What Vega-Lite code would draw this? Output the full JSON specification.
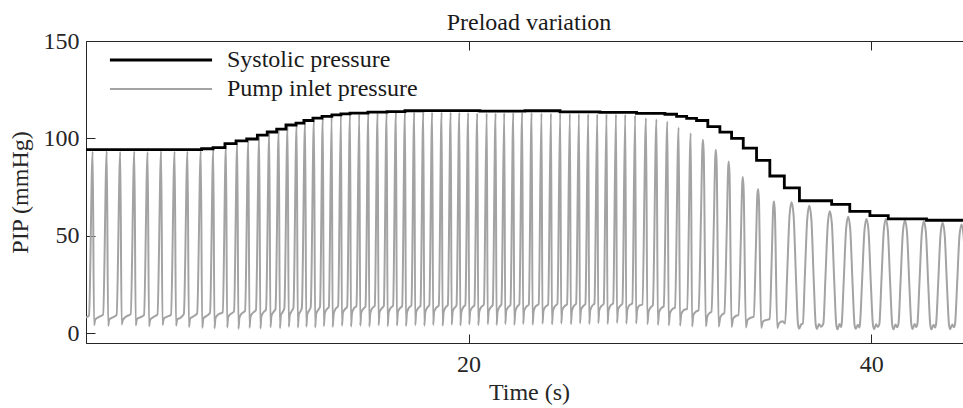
{
  "$schema": "https://vega.github.io/schema/vega-lite/v6.json",
  "width": 886,
  "height": 302,
  "autosize": {"type": "none"},
  "padding": {"left": 86, "top": 41, "right": 0, "bottom": 65},
  "background": "white",
  "config": {
    "font": "Liberation Serif",
    "view": {"stroke": "#262626", "strokeWidth": 1}
  },
  "title": {
    "text": "Preload variation",
    "font": "Liberation Serif",
    "fontSize": 24,
    "fontWeight": "normal",
    "color": "#1a1a1a",
    "anchor": "middle",
    "baseline": "alphabetic",
    "offset": 15,
    "dy": 40
  },
  "datasets": {
    "pip": [
      {"t":1.00,"p":8.0},
      {"t":1.15,"p":9.2},{"t":1.33,"p":93.3},{"t":1.40,"p":4.2},{"t":1.46,"p":7.0},{"t":1.63,"p":8.3},
      {"t":1.85,"p":9.6},{"t":2.03,"p":93.5},{"t":2.10,"p":3.8},{"t":2.16,"p":7.2},{"t":2.33,"p":8.1},
      {"t":2.52,"p":9.4},{"t":2.70,"p":93.2},{"t":2.77,"p":4.5},{"t":2.83,"p":6.8},{"t":3.00,"p":8.6},
      {"t":3.22,"p":9.8},{"t":3.40,"p":93.4},{"t":3.47,"p":4.0},{"t":3.53,"p":7.3},{"t":3.70,"p":8.2},
      {"t":3.88,"p":9.3},{"t":4.06,"p":93.0},{"t":4.13,"p":3.6},{"t":4.19,"p":7.0},{"t":4.36,"p":8.4},
      {"t":4.55,"p":9.7},{"t":4.73,"p":93.5},{"t":4.80,"p":4.3},{"t":4.86,"p":7.4},{"t":5.03,"p":8.5},
      {"t":5.22,"p":9.5},{"t":5.40,"p":93.3},{"t":5.47,"p":3.9},{"t":5.53,"p":7.1},{"t":5.70,"p":8.0},
      {"t":5.86,"p":9.9},{"t":6.04,"p":93.4},{"t":6.11,"p":3.2},{"t":6.17,"p":7.5},{"t":6.34,"p":8.7},
      {"t":6.52,"p":10.2},{"t":6.70,"p":93.6},{"t":6.77,"p":2.8},{"t":6.83,"p":7.6},{"t":7.00,"p":9.0},
      {"t":7.16,"p":10.5},{"t":7.32,"p":94.3},{"t":7.38,"p":2.5},{"t":7.43,"p":7.8},{"t":7.54,"p":9.4},
      {"t":7.79,"p":10.8},{"t":7.95,"p":96.5},{"t":8.01,"p":3.0},{"t":8.06,"p":8.2},{"t":8.17,"p":9.8},
      {"t":8.35,"p":11.2},{"t":8.51,"p":98.0},{"t":8.57,"p":2.2},{"t":8.62,"p":8.0},{"t":8.73,"p":10.1},
      {"t":8.90,"p":11.5},{"t":9.06,"p":99.0},{"t":9.12,"p":2.8},{"t":9.17,"p":8.5},{"t":9.28,"p":10.4},
      {"t":9.44,"p":11.9},{"t":9.60,"p":101.0},{"t":9.66,"p":2.4},{"t":9.71,"p":8.7},{"t":9.82,"p":10.8},
      {"t":9.94,"p":12.2},{"t":10.10,"p":102.7},{"t":10.16,"p":3.1},{"t":10.21,"p":9.0},{"t":10.32,"p":11.0},
      {"t":10.41,"p":12.4},{"t":10.57,"p":104.2},{"t":10.63,"p":2.6},{"t":10.68,"p":9.2},{"t":10.79,"p":11.3},
      {"t":10.85,"p":12.8},{"t":11.01,"p":106.2},{"t":11.07,"p":3.3},{"t":11.12,"p":9.4},{"t":11.23,"p":11.6},
      {"t":11.30,"p":13.0},{"t":11.46,"p":107.3},{"t":11.52,"p":2.9},{"t":11.57,"p":9.6},{"t":11.68,"p":11.8},
      {"t":11.72,"p":13.2},{"t":11.88,"p":108.6},{"t":11.94,"p":3.4},{"t":11.99,"p":9.8},{"t":12.10,"p":12.0},
      {"t":12.16,"p":13.4},{"t":12.32,"p":109.8},{"t":12.38,"p":3.0},{"t":12.43,"p":9.9},{"t":12.54,"p":12.1},
      {"t":12.62,"p":13.6},{"t":12.76,"p":110.6},{"t":12.81,"p":3.6},{"t":12.86,"p":10.2},{"t":12.96,"p":12.4},
      {"t":13.06,"p":13.5},{"t":13.20,"p":111.3},{"t":13.25,"p":3.2},{"t":13.30,"p":10.0},{"t":13.40,"p":12.6},
      {"t":13.52,"p":13.9},{"t":13.66,"p":111.9},{"t":13.71,"p":3.8},{"t":13.76,"p":10.5},{"t":13.86,"p":12.3},
      {"t":13.97,"p":13.7},{"t":14.11,"p":112.3},{"t":14.16,"p":3.4},{"t":14.21,"p":10.3},{"t":14.31,"p":12.8},
      {"t":14.43,"p":14.0},{"t":14.57,"p":112.6},{"t":14.62,"p":3.9},{"t":14.67,"p":10.6},{"t":14.77,"p":12.5},
      {"t":14.88,"p":13.8},{"t":15.02,"p":112.8},{"t":15.07,"p":3.5},{"t":15.12,"p":10.4},{"t":15.22,"p":12.9},
      {"t":15.34,"p":14.1},{"t":15.48,"p":113.0},{"t":15.53,"p":4.1},{"t":15.58,"p":10.8},{"t":15.68,"p":12.7},
      {"t":15.79,"p":13.9},{"t":15.93,"p":113.2},{"t":15.98,"p":3.6},{"t":16.03,"p":10.5},{"t":16.13,"p":13.0},
      {"t":16.25,"p":14.2},{"t":16.39,"p":113.4},{"t":16.44,"p":4.0},{"t":16.49,"p":10.9},{"t":16.59,"p":12.8},
      {"t":16.70,"p":14.0},{"t":16.84,"p":113.4},{"t":16.89,"p":3.7},{"t":16.94,"p":10.6},{"t":17.04,"p":13.1},
      {"t":17.16,"p":14.3},{"t":17.30,"p":113.5},{"t":17.35,"p":4.2},{"t":17.40,"p":11.0},{"t":17.50,"p":12.9},
      {"t":17.61,"p":14.1},{"t":17.75,"p":113.5},{"t":17.80,"p":3.8},{"t":17.85,"p":10.7},{"t":17.95,"p":13.2},
      {"t":18.05,"p":14.4},{"t":18.19,"p":113.4},{"t":18.24,"p":4.3},{"t":18.29,"p":11.1},{"t":18.39,"p":13.0},
      {"t":18.52,"p":14.2},{"t":18.66,"p":113.5},{"t":18.71,"p":3.9},{"t":18.76,"p":10.8},{"t":18.86,"p":13.3},
      {"t":18.97,"p":14.5},{"t":19.11,"p":113.4},{"t":19.16,"p":4.4},{"t":19.21,"p":11.2},{"t":19.31,"p":13.1},
      {"t":19.40,"p":14.3},{"t":19.54,"p":113.3},{"t":19.59,"p":4.0},{"t":19.64,"p":10.9},{"t":19.74,"p":13.4},
      {"t":19.84,"p":14.6},{"t":19.98,"p":113.2},{"t":20.03,"p":4.5},{"t":20.08,"p":11.3},{"t":20.18,"p":13.2},
      {"t":20.29,"p":14.4},{"t":20.43,"p":113.0},{"t":20.48,"p":4.1},{"t":20.53,"p":11.0},{"t":20.63,"p":13.5},
      {"t":20.76,"p":14.7},{"t":20.90,"p":113.0},{"t":20.95,"p":4.6},{"t":21.00,"p":11.4},{"t":21.10,"p":13.3},
      {"t":21.20,"p":14.5},{"t":21.34,"p":112.9},{"t":21.39,"p":4.2},{"t":21.44,"p":11.1},{"t":21.54,"p":13.6},
      {"t":21.63,"p":14.8},{"t":21.77,"p":113.1},{"t":21.82,"p":4.7},{"t":21.87,"p":11.5},{"t":21.97,"p":13.4},
      {"t":22.08,"p":14.6},{"t":22.22,"p":113.2},{"t":22.27,"p":4.3},{"t":22.32,"p":11.2},{"t":22.42,"p":13.7},
      {"t":22.52,"p":14.9},{"t":22.66,"p":113.3},{"t":22.71,"p":4.8},{"t":22.76,"p":11.6},{"t":22.86,"p":13.5},
      {"t":22.99,"p":14.7},{"t":23.13,"p":113.2},{"t":23.18,"p":4.4},{"t":23.23,"p":11.3},{"t":23.33,"p":13.8},
      {"t":23.48,"p":15.0},{"t":23.62,"p":113.0},{"t":23.67,"p":4.9},{"t":23.72,"p":11.7},{"t":23.82,"p":13.6},
      {"t":23.95,"p":14.8},{"t":24.09,"p":112.9},{"t":24.14,"p":4.5},{"t":24.19,"p":11.4},{"t":24.29,"p":13.9},
      {"t":24.41,"p":15.1},{"t":24.55,"p":112.8},{"t":24.60,"p":5.0},{"t":24.65,"p":11.8},{"t":24.75,"p":13.7},
      {"t":24.89,"p":14.9},{"t":25.03,"p":112.7},{"t":25.08,"p":4.6},{"t":25.13,"p":11.5},{"t":25.23,"p":14.0},
      {"t":25.34,"p":15.2},{"t":25.48,"p":112.6},{"t":25.53,"p":5.1},{"t":25.58,"p":11.9},{"t":25.68,"p":13.8},
      {"t":25.80,"p":15.0},{"t":25.94,"p":112.6},{"t":25.99,"p":4.7},{"t":26.04,"p":11.6},{"t":26.14,"p":14.1},
      {"t":26.25,"p":15.3},{"t":26.39,"p":112.5},{"t":26.44,"p":5.2},{"t":26.49,"p":12.0},{"t":26.59,"p":13.9},
      {"t":26.71,"p":15.1},{"t":26.85,"p":112.5},{"t":26.90,"p":4.8},{"t":26.95,"p":11.7},{"t":27.05,"p":14.2},
      {"t":27.18,"p":15.4},{"t":27.32,"p":112.4},{"t":27.37,"p":5.3},{"t":27.42,"p":12.1},{"t":27.52,"p":14.0},
      {"t":27.64,"p":15.2},{"t":27.78,"p":112.3},{"t":27.83,"p":4.9},{"t":27.88,"p":11.8},{"t":27.98,"p":14.3},
      {"t":28.13,"p":15.3},{"t":28.27,"p":111.9},{"t":28.32,"p":5.0},{"t":28.37,"p":11.9},{"t":28.47,"p":14.1},
      {"t":28.63,"p":14.8},{"t":28.81,"p":110.4},{"t":28.88,"p":4.6},{"t":28.94,"p":11.2},{"t":29.06,"p":13.5},
      {"t":29.15,"p":14.4},{"t":29.33,"p":109.9},{"t":29.40,"p":4.3},{"t":29.46,"p":10.8},{"t":29.58,"p":13.0},
      {"t":29.69,"p":13.8},{"t":29.87,"p":108.7},{"t":29.94,"p":4.0},{"t":30.00,"p":10.3},{"t":30.12,"p":12.4},
      {"t":30.25,"p":13.2},{"t":30.43,"p":105.6},{"t":30.50,"p":3.8},{"t":30.56,"p":9.8},{"t":30.68,"p":11.8},
      {"t":30.85,"p":12.5},{"t":31.03,"p":102.7},{"t":31.10,"p":3.5},{"t":31.16,"p":9.2},{"t":31.28,"p":11.0},
      {"t":31.42,"p":11.8},{"t":31.54,"p":59.6},{"t":31.61,"p":95.3},{"t":31.64,"p":99.3},{"t":31.68,"p":91.4},{"t":31.78,"p":3.6},{"t":31.86,"p":8.8},{"t":31.98,"p":10.5},
      {"t":32.06,"p":11.0},{"t":32.18,"p":56.5},{"t":32.25,"p":90.4},{"t":32.28,"p":94.2},{"t":32.32,"p":86.7},{"t":32.42,"p":3.4},{"t":32.50,"p":8.2},{"t":32.62,"p":9.8},
      {"t":32.70,"p":10.3},{"t":32.82,"p":52.9},{"t":32.89,"p":84.7},{"t":32.92,"p":88.2},{"t":32.96,"p":81.1},{"t":33.06,"p":3.2},{"t":33.14,"p":7.6},{"t":33.30,"p":9.0},
      {"t":33.40,"p":9.4},{"t":33.52,"p":48.1},{"t":33.59,"p":77.0},{"t":33.62,"p":80.2},{"t":33.66,"p":73.8},{"t":33.77,"p":3.0},{"t":33.85,"p":6.8},{"t":34.02,"p":8.0},
      {"t":34.16,"p":8.5},{"t":34.27,"p":44.5},{"t":34.34,"p":71.1},{"t":34.38,"p":74.1},{"t":34.42,"p":68.2},{"t":34.53,"p":2.8},{"t":34.62,"p":6.0},{"t":34.85,"p":7.0},
      {"t":34.95,"p":7.4},{"t":35.06,"p":40.6},{"t":35.13,"p":65.0},{"t":35.17,"p":67.7},{"t":35.21,"p":62.3},{"t":35.33,"p":2.6},{"t":35.42,"p":5.2},{"t":35.60,"p":6.2},
      {"t":35.72,"p":5.0},{"t":35.82,"p":30.2},{"t":35.94,"p":60.5},{"t":36.04,"p":67.2},{"t":36.14,"p":60.5},{"t":36.26,"p":28.2},{"t":36.36,"p":4.5},{"t":36.42,"p":2.4},{"t":36.52,"p":4.6},
      {"t":36.60,"p":5.0},{"t":36.70,"p":29.5},{"t":36.82,"p":59.0},{"t":36.92,"p":65.5},{"t":37.02,"p":59.0},{"t":37.14,"p":27.5},{"t":37.24,"p":4.4},{"t":37.30,"p":2.2},{"t":37.40,"p":4.8},{"t":37.50,"p":3.3},
      {"t":37.62,"p":5.2},{"t":37.72,"p":28.2},{"t":37.84,"p":56.3},{"t":37.94,"p":62.6},{"t":38.04,"p":56.3},{"t":38.16,"p":26.3},{"t":38.26,"p":4.3},{"t":38.32,"p":2.0},{"t":38.42,"p":4.7},{"t":38.50,"p":3.2},
      {"t":38.53,"p":4.9},{"t":38.63,"p":26.9},{"t":38.75,"p":53.8},{"t":38.85,"p":59.8},{"t":38.95,"p":53.8},{"t":39.07,"p":25.1},{"t":39.17,"p":4.1},{"t":39.23,"p":2.3},{"t":39.33,"p":4.4},{"t":39.41,"p":3.0},
      {"t":39.44,"p":5.1},{"t":39.54,"p":26.4},{"t":39.66,"p":52.8},{"t":39.76,"p":58.7},{"t":39.86,"p":52.8},{"t":39.98,"p":24.7},{"t":40.08,"p":4.4},{"t":40.14,"p":2.1},{"t":40.24,"p":4.6},{"t":40.32,"p":3.3},
      {"t":40.40,"p":4.8},{"t":40.50,"p":26.4},{"t":40.62,"p":52.8},{"t":40.72,"p":58.7},{"t":40.82,"p":52.8},{"t":40.94,"p":24.7},{"t":41.04,"p":4.2},{"t":41.10,"p":2.0},{"t":41.20,"p":4.5},{"t":41.28,"p":3.1},
      {"t":41.35,"p":5.0},{"t":41.45,"p":26.1},{"t":41.57,"p":52.2},{"t":41.67,"p":58.0},{"t":41.77,"p":52.2},{"t":41.89,"p":24.4},{"t":41.99,"p":4.3},{"t":42.05,"p":2.2},{"t":42.15,"p":4.7},{"t":42.23,"p":3.2},
      {"t":42.29,"p":4.9},{"t":42.39,"p":25.9},{"t":42.51,"p":51.8},{"t":42.61,"p":57.5},{"t":42.71,"p":51.8},{"t":42.83,"p":24.2},{"t":42.93,"p":4.1},{"t":42.99,"p":2.0},{"t":43.09,"p":4.4},{"t":43.17,"p":3.0},
      {"t":43.22,"p":5.1},{"t":43.32,"p":25.5},{"t":43.44,"p":51.0},{"t":43.54,"p":56.7},{"t":43.64,"p":51.0},{"t":43.76,"p":23.8},{"t":43.86,"p":4.2},{"t":43.92,"p":2.1},{"t":44.02,"p":4.5},{"t":44.10,"p":3.1},
      {"t":44.16,"p":5.0},{"t":44.26,"p":25.1},{"t":44.38,"p":50.2},{"t":44.48,"p":55.8},{"t":44.58,"p":50.2},{"t":44.70,"p":24.0},{"t":44.80,"p":4.4},{"t":45.00,"p":3.5}
    ],
    "sys": [
      {"t":1.00,"p":94.3},{"t":6.74,"p":94.7},{"t":7.31,"p":95.3},{"t":7.90,"p":97.3},{"t":8.45,"p":98.7},
      {"t":8.98,"p":99.7},{"t":9.51,"p":101.7},{"t":10.00,"p":103.3},{"t":10.47,"p":104.8},{"t":10.93,"p":106.9},
      {"t":11.43,"p":107.9},{"t":11.82,"p":109.2},{"t":12.27,"p":110.4},{"t":12.72,"p":111.3},{"t":13.21,"p":112.1},
      {"t":13.66,"p":112.6},{"t":14.11,"p":113.0},{"t":15.00,"p":113.5},{"t":15.95,"p":113.8},{"t":16.84,"p":114.2},
      {"t":17.73,"p":114.3},{"t":20.56,"p":114.0},{"t":22.80,"p":114.2},{"t":24.54,"p":113.6},{"t":26.52,"p":113.4},
      {"t":28.34,"p":112.9},{"t":29.75,"p":112.4},{"t":30.33,"p":111.3},{"t":30.83,"p":110.3},{"t":31.32,"p":109.2},
      {"t":31.88,"p":106.1},{"t":32.48,"p":103.2},{"t":33.06,"p":100.0},{"t":33.64,"p":95.0},{"t":34.30,"p":88.7},
      {"t":34.96,"p":80.7},{"t":35.68,"p":74.6},{"t":36.43,"p":68.0},{"t":38.03,"p":66.1},{"t":38.93,"p":62.6},
      {"t":39.93,"p":60.4},{"t":40.84,"p":58.7},{"t":42.74,"p":58.0},{"t":45.00,"p":58.0}
    ]
  },
  "encoding": {
    "y": {
      "field": "p",
      "type": "quantitative",
      "scale": {"domain": [-5, 150], "nice": false, "zero": false},
      "axis": {
        "values": [0, 50, 100, 150],
        "title": "PIP (mmHg)",
        "grid": false,
        "tickSize": -9,
        "tickColor": "#262626",
        "domainColor": "#262626",
        "labelPadding": 16,
        "labelFont": "Liberation Serif",
        "labelFontSize": 24,
        "labelColor": "#262626",
        "titleFont": "Liberation Serif",
        "titleFontSize": 24,
        "titleFontWeight": "normal",
        "titleColor": "#262626",
        "titlePadding": 11
      }
    }
  },
  "layer": [
    {
      "data": {"name": "pip"},
      "mark": {"type": "line", "interpolate": "monotone", "clip": true},
      "encoding": {
        "x": {
          "field": "t",
          "type": "quantitative",
          "scale": {"domain": [1, 45], "nice": false, "zero": false},
          "axis": {
            "orient": "bottom",
            "values": [20, 40],
            "title": "Time (s)",
            "grid": false,
            "tickSize": -9,
            "tickColor": "#262626",
            "domainColor": "#262626",
            "labelPadding": 18,
            "labelFont": "Liberation Serif",
            "labelFontSize": 24,
            "labelColor": "#262626",
            "titleFont": "Liberation Serif",
            "titleFontSize": 24,
            "titleFontWeight": "normal",
            "titleColor": "#262626",
            "titlePadding": 4
          }
        },
        "color": {
          "datum": "Pump inlet pressure",
          "type": "nominal",
          "scale": {"domain": ["Systolic pressure", "Pump inlet pressure"], "range": ["#000000", "#a3a3a3"]},
          "legend": {
            "orient": "none",
            "legendX": 63,
            "legendY": 7,
            "title": null,
            "padding": 0,
            "labelFont": "Liberation Serif",
            "labelFontSize": 24,
            "labelColor": "#1a1a1a",
            "labelLimit": 0,
            "symbolType": "M-8,0H8",
            "symbolSize": 163,
            "symbolOffset": 0,
            "labelOffset": 54,
            "rowPadding": 5
          }
        },
        "strokeWidth": {
          "datum": "Pump inlet pressure",
          "type": "nominal",
          "scale": {"domain": ["Systolic pressure", "Pump inlet pressure"], "range": [2.8, 2.0]}
        }
      }
    },
    {
      "data": {"name": "sys"},
      "mark": {"type": "line", "interpolate": "step-after", "clip": true},
      "encoding": {
        "x": {
          "field": "t",
          "type": "quantitative",
          "scale": {"domain": [1, 45], "nice": false, "zero": false},
          "axis": {
            "orient": "top",
            "values": [20, 40],
            "labels": false,
            "domain": false,
            "title": null,
            "grid": false,
            "tickSize": -9,
            "tickColor": "#262626",
            "minExtent": 0,
            "maxExtent": 0
          }
        },
        "color": {"datum": "Systolic pressure", "type": "nominal"},
        "strokeWidth": {"datum": "Systolic pressure", "type": "nominal"}
      }
    }
  ],
  "resolve": {"axis": {"x": "independent"}}
}
